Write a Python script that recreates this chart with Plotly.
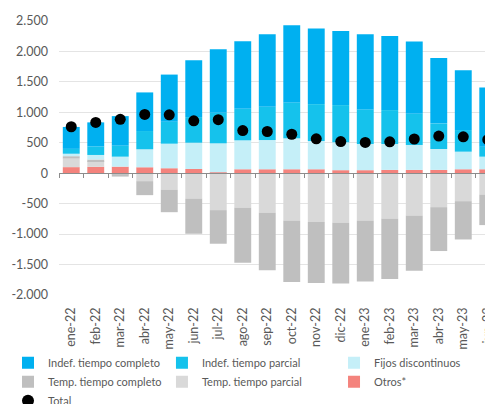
import plotly.graph_objects as go

categories = ["ene-22", "feb-22", "mar-22", "abr-22", "may-22", "jun-22", "jul-22", "ago-22", "sep-22",
              "oct-22", "nov-22", "dic-22", "ene-23", "feb-23", "mar-23", "abr-23", "may-23", "jun-23"]

indef_completo = [360, 395, 486, 634, 775, 934, 1043, 1109, 1191, 1266, 1240, 1217, 1234, 1217, 1186, 1075, 983, 973]
indef_parcial = [80, 140, 180, 300, 360, 421, 502, 518, 546, 590, 606, 611, 568, 557, 512, 421, 355, 164]
fijos_discontinuos = [40, 75, 164, 295, 403, 431, 476, 475, 480, 508, 464, 458, 430, 425, 409, 343, 289, 207]
temp_completo = [40, 25, -40, -230, -370, -578, -552, -901, -945, -1010, -999, -999, -1004, -993, -906, -721, -629, -502]
temp_parcial = [140, 95, -15, -130, -270, -416, -606, -568, -650, -776, -803, -814, -776, -743, -694, -557, -459, -350]
otros = [100, 105, 108, 98, 82, 70, 15, 65, 65, 65, 65, 50, 50, 55, 55, 55, 65, 65]
total = [763, 835, 885, 966, 960, 860, 880, 700, 685, 640, 565, 520, 505, 515, 562, 610, 598, 550]

ytick_vals = [-2000, -1500, -1000, -500, 0, 500, 1000, 1500, 2000, 2500]
ytick_text = ["-2.000", "-1.500", "-1.000", "-500", "0", "500", "1.000", "1.500", "2.000", "2.500"]

FONT = "Lato"
TXT = "#595959"

fig = go.Figure()

# stacking order from zero outward: (name, values, colour, legend column, rank)
series = [
    ("Otros*", otros, "#F4837D", "legend3", 6),
    ("Temp. tiempo parcial", temp_parcial, "#D9D9D9", "legend2", 5),
    ("Temp. tiempo completo", temp_completo, "#BFBFBF", "legend", 4),
    ("Fijos discontinuos", fijos_discontinuos, "#C5EFF8", "legend3", 3),
    ("Indef. tiempo parcial", indef_parcial, "#15C2EC", "legend2", 2),
    ("Indef. tiempo completo", indef_completo, "#00B0F0", "legend", 1),
]
for name, vals, color, leg, rank in series:
    fig.add_trace(go.Bar(x=categories, y=vals, name=name, marker=dict(color=color, line=dict(width=0)),
                         legend=leg, legendrank=rank))

fig.add_trace(go.Scatter(x=categories, y=total, name="Total", mode="markers",
                         marker=dict(color="black", size=11, symbol="circle"), legend="legend",
                         legendrank=7))

# helper invisible trace for the zero-line axis with boundary ticks
fig.add_trace(go.Scatter(x=categories, y=[0] * len(categories), xaxis="x2", mode="markers",
                         marker=dict(opacity=0), showlegend=False, hoverinfo="skip"))

xr = [-0.5, 17.54]
leg_common = dict(orientation="v", xref="container", yref="container", y=0.158,
                  xanchor="left", yanchor="top", font=dict(size=11, color=TXT, family=FONT),
                  itemwidth=30, tracegroupgap=0, bgcolor="rgba(0,0,0,0)", itemsizing="constant")

fig.update_layout(
    width=493, height=404,
    barmode="relative", bargap=0.31,
    plot_bgcolor="white", paper_bgcolor="white",
    margin=dict(l=51, r=0, t=13, b=117, autoexpand=False),
    font=dict(family=FONT, size=12, color=TXT),
    xaxis=dict(type="category", categoryarray=categories, range=xr, showgrid=False, showline=False,
               ticks="", tickangle=-90, ticklabelstandoff=9, automargin=False,
               tickfont=dict(size=12.5, color=TXT)),
    xaxis2=dict(type="category", categoryarray=categories, range=xr, overlaying="x", anchor="free",
                position=2000 / 4500, showline=True, linecolor="#8C8C8C", linewidth=1,
                ticks="outside", ticklen=4, tickcolor="#8C8C8C", tickson="boundaries",
                showticklabels=False, showgrid=False, zeroline=False, automargin=False),
    yaxis=dict(range=[-2000, 2500], tickvals=ytick_vals, ticktext=ytick_text, showgrid=True,
               gridcolor="#E4E4E4", gridwidth=1, zeroline=False, showline=False, automargin=False,
               ticklabelstandoff=10, tickfont=dict(size=12.5, color=TXT)),
    legend=dict(x=0.0, **leg_common),
    legend2=dict(x=0.3123, **leg_common),
    legend3=dict(x=0.6613, **leg_common),
    showlegend=True,
)

fig.write_html("out.html")
